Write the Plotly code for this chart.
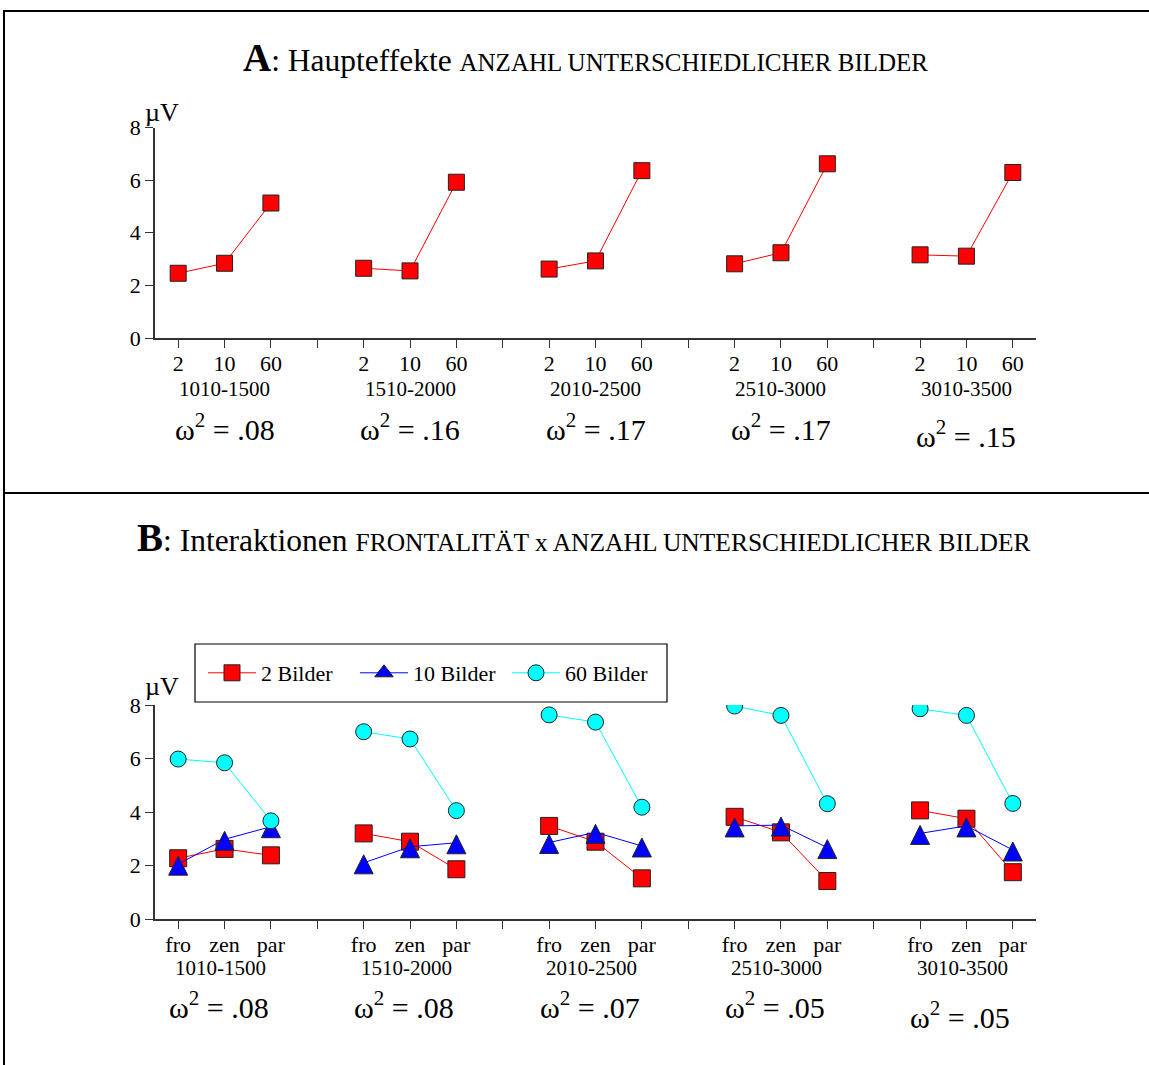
import plotly.graph_objects as go

# ---- data -------------------------------------------------------------
windows = ["1010-1500", "1510-2000", "2010-2500", "2510-3000", "3010-3500"]
image_counts = ["2", "10", "60"]
sites = ["fro", "zen", "par"]

# Panel A: main effect of the number of different images (µV) per time window
main_2 = [2.46, 2.65, 2.62, 2.82, 3.16]
main_10 = [2.84, 2.55, 2.93, 3.24, 3.11]
main_60 = [5.13, 5.92, 6.36, 6.62, 6.29]
omega_a = [".08", ".16", ".17", ".17", ".15"]

# Panel B: frontality x number of images, values for fro / zen / par per window
bilder_2 = [[2.27, 2.62, 2.38], [3.20, 2.89, 1.86], [3.48, 2.89, 1.52],
            [3.82, 3.24, 1.42], [4.06, 3.75, 1.75]]
bilder_10 = [[2.05, 2.98, 3.45], [2.10, 2.70, 2.85], [2.86, 3.24, 2.73],
             [3.48, 3.51, 2.67], [3.20, 3.48, 2.58]]
bilder_60 = [[5.98, 5.84, 3.67], [7.00, 6.73, 4.05], [7.63, 7.36, 4.18],
             [7.96, 7.61, 4.31], [7.86, 7.61, 4.32]]
omega_b = [".08", ".08", ".07", ".05", ".05"]

y_ticks = [0, 2, 4, 6, 8]

# ---- helpers ------------------------------------------------------------
W, H = 1149, 1065
FONT = "Liberation Serif, Times New Roman, serif"
GROUP = len(image_counts) + 1          # three categories + one empty separator slot


def slot(g, j):
    return g * GROUP + j


def grouped(values_per_window):
    xs, ys = [], []
    for g, vals in enumerate(values_per_window):
        for j, v in enumerate(vals):
            xs.append(slot(g, j))
            ys.append(v)
        xs.append(None)
        ys.append(None)
    return xs, ys


def px_x(p):
    return p / W


def px_y(p):
    return 1 - p / H


n_slots = len(windows) * GROUP - 1
tickvals = list(range(n_slots))


def ticktext(labels):
    out = []
    for s in tickvals:
        j = s % GROUP
        out.append(labels[j] if j < len(labels) else "")
    return out


fig = go.Figure()

# ---- panel A ------------------------------------------------------------
xa, ya = grouped([[a, b, c] for a, b, c in zip(main_2, main_10, main_60)])
fig.add_trace(go.Scatter(
    x=xa, y=ya, xaxis="x", yaxis="y", mode="lines+markers", showlegend=False,
    line=dict(color="#ff0000", width=1),
    marker=dict(symbol="square", size=16, color="#ff0000",
                line=dict(color="#222222", width=1)),
))

# ---- panel B ------------------------------------------------------------
series_b = [
    ("2 Bilder", bilder_2, "#ff0000",
     dict(symbol="square", size=17), dict(symbol="square", size=17)),
    ("10 Bilder", bilder_10, "#0000ff",
     dict(symbol="arrow-down", angle=180, standoff=8, size=19),
     dict(symbol="triangle-up", size=19)),
    ("60 Bilder", bilder_60, "#00ffff",
     dict(symbol="circle", size=16), dict(symbol="circle", size=16)),
]
for name, vals, col, mk, legend_mk in series_b:
    xb, yb = grouped(vals)
    fig.add_trace(go.Scatter(
        x=xb, y=yb, xaxis="x2", yaxis="y2", mode="lines+markers", name=name,
        legendgroup=name, showlegend=False,
        line=dict(color=col, width=1),
        marker=dict(color=col, line=dict(color="#222222", width=1), **mk),
    ))
    # legend swatch for the series
    fig.add_trace(go.Scatter(
        x=[None], y=[None], xaxis="x2", yaxis="y2", mode="lines+markers",
        name=name, legendgroup=name, showlegend=True,
        line=dict(color=col, width=1),
        marker=dict(color=col, line=dict(color="#222222", width=1), **legend_mk),
    ))

# ---- axes ---------------------------------------------------------------
x_dom = [px_x(155), px_x(1036)]
ya_dom = [px_y(338), px_y(127.5)]
yb_dom = [px_y(919), px_y(705)]

axis_font = dict(family=FONT, size=22, color="black")
common_x = dict(range=[-0.5, n_slots - 0.5], domain=x_dom, showgrid=False,
                zeroline=False, showline=True, linecolor="#333333", linewidth=1.5,
                ticks="outside", ticklen=8, tickwidth=1.2, tickcolor="#333333",
                tickvals=tickvals, tickfont=axis_font, fixedrange=True,
                automargin=False, ticklabelstandoff=-3)
common_y = dict(range=[0, 8], showgrid=False, zeroline=False, showline=True,
                linecolor="#333333", linewidth=1.5, ticks="outside", ticklen=8,
                tickwidth=1.2, tickcolor="#333333", tickvals=y_ticks,
                tickfont=axis_font, fixedrange=True, automargin=False)
inner_y = dict(range=[0, 8], showgrid=False, zeroline=False, showline=False,
               ticks="inside", ticklen=8, tickwidth=1.2, tickcolor="#333333",
               tickvals=y_ticks, showticklabels=False, fixedrange=True,
               automargin=False)

fig.update_layout(
    xaxis=dict(anchor="y", ticktext=ticktext(image_counts), **common_x),
    yaxis=dict(anchor="x", domain=ya_dom, **common_y),
    xaxis2=dict(anchor="y2", ticktext=ticktext(sites), **common_x),
    yaxis2=dict(anchor="x2", domain=yb_dom, **common_y),
    yaxis3=dict(anchor="x", overlaying="y", **inner_y),
    yaxis4=dict(anchor="x2", overlaying="y2", **inner_y),
)

# ---- text -------------------------------------------------------------------
ann = []
ann.append(dict(
    text="<b><span style='font-size:39px'>A</span></b>: Haupteffekte "
         "<span style='font-size:25px'>ANZAHL UNTERSCHIEDLICHER BILDER</span>",
    x=px_x(585), y=px_y(57), xref="paper", yref="paper", showarrow=False,
    font=dict(family=FONT, size=31.5, color="black"), xanchor="center", yanchor="middle"))
ann.append(dict(
    text="<b><span style='font-size:39px'>B</span></b>: Interaktionen "
         "<span style='font-size:25.5px'>FRONTALITÄT x ANZAHL UNTERSCHIEDLICHER BILDER</span>",
    x=px_x(584), y=px_y(537), xref="paper", yref="paper", showarrow=False,
    font=dict(family=FONT, size=31.5, color="black"), xanchor="center", yanchor="middle"))

for yy in (112, 686):
    ann.append(dict(text="µV", x=px_x(143), y=px_y(yy), xref="paper", yref="paper",
                    showarrow=False, xanchor="left", yanchor="middle",
                    font=dict(family=FONT, size=26, color="black")))

for g, w in enumerate(windows):
    mid = slot(g, 1)
    ann.append(dict(text=w, x=mid, y=px_y(389), xref="x", yref="paper", showarrow=False,
                    xanchor="center", yanchor="middle",
                    font=dict(family=FONT, size=21, color="black")))
    ann.append(dict(text=w, x=mid, y=px_y(968), xref="x2", yref="paper", showarrow=False,
                    xanchor="center", yanchor="middle", xshift=-4,
                    font=dict(family=FONT, size=21, color="black")))
    last = g == len(windows) - 1
    ann.append(dict(text="ω<sup>2</sup> = " + omega_a[g], x=mid,
                    y=px_y(434 if last else 427), xref="x", yref="paper",
                    showarrow=False, xanchor="center", yanchor="middle",
                    font=dict(family=FONT, size=30, color="black")))
    ann.append(dict(text="ω<sup>2</sup> = " + omega_b[g], x=mid,
                    y=px_y(1015 if last else 1005), xref="x2", yref="paper",
                    showarrow=False, xanchor="center", yanchor="middle", xshift=-6,
                    font=dict(family=FONT, size=30, color="black")))

# ---- frame lines and legend box -------------------------------------------------
frame = dict(type="line", xref="paper", yref="paper", line=dict(color="black", width=2))
shapes = [
    dict(x0=px_x(3), x1=1, y0=px_y(11), y1=px_y(11), **frame),
    dict(x0=px_x(4), x1=px_x(4), y0=px_y(11), y1=0, **frame),
    dict(x0=px_x(4), x1=1, y0=px_y(493), y1=px_y(493), **frame),
    dict(type="rect", xref="paper", yref="paper", x0=px_x(195), x1=px_x(667),
         y0=px_y(702), y1=px_y(644), line=dict(color="black", width=1.2)),
]

fig.update_layout(
    width=W, height=H, margin=dict(l=0, r=0, t=0, b=0, autoexpand=False),
    paper_bgcolor="white", plot_bgcolor="white",
    font=dict(family=FONT, size=22, color="black"),
    annotations=ann, shapes=shapes,
    legend=dict(orientation="h", x=px_x(203), y=px_y(673), xanchor="left",
                yanchor="middle", borderwidth=0, bgcolor="rgba(0,0,0,0)",
                font=dict(family=FONT, size=22, color="black"),
                itemwidth=48, entrywidth=89, entrywidthmode="pixels"),
)

fig.write_html("out.html")
